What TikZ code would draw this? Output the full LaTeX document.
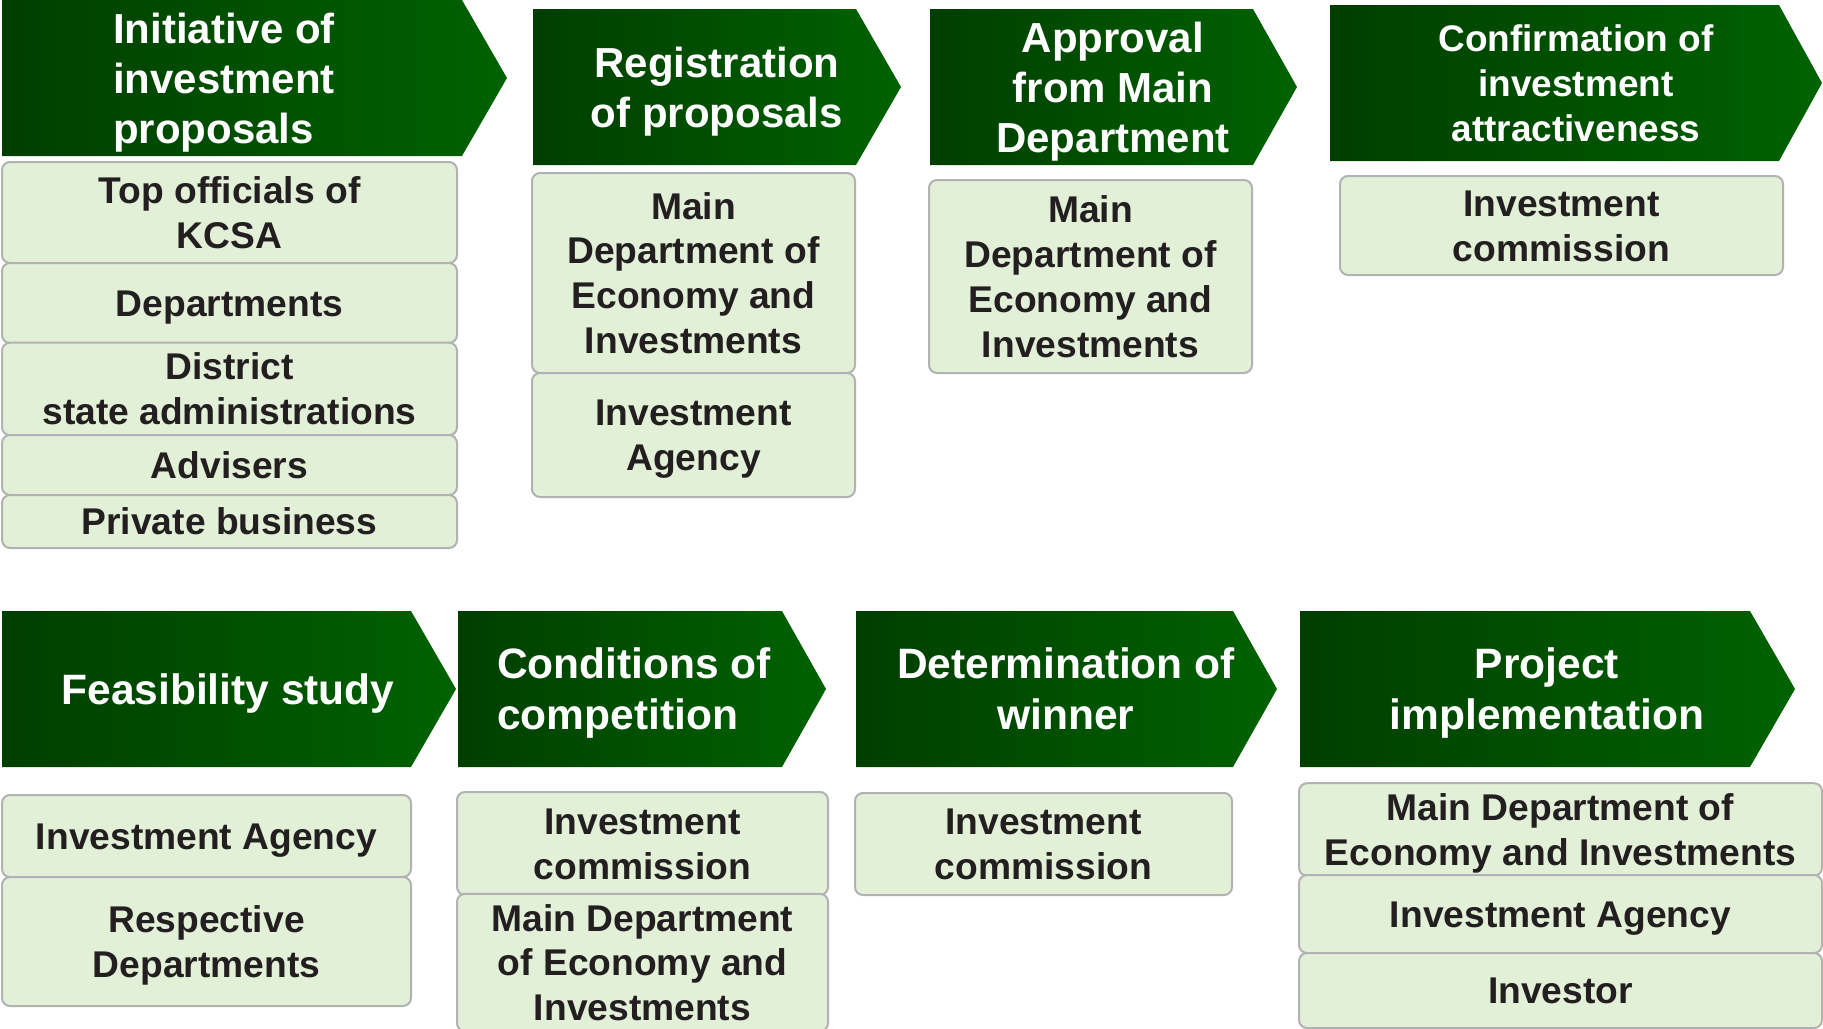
\documentclass[tikz,border=0pt]{standalone}
\usepackage{fontspec}
\setmainfont{Liberation Sans}
\definecolor{boxfill}{RGB}{226,240,216}
\definecolor{boxline}{RGB}{178,178,178}
\definecolor{txt}{RGB}{35,31,32}
\definecolor{gdark}{RGB}{0,62,0}
\definecolor{glight}{RGB}{0,98,0}
% struts so that the node centre is the centre of the capitals
\newcommand\tS{\rule{0pt}{1em}}
\newcommand\tE{\rule[-0.284em]{0pt}{0.284em}}
\tikzset{
  cell/.style={draw=boxline, fill=boxfill, rounded corners=8pt, line width=2pt,
    text=txt, font=\fontsize{37.2}{44.8}\selectfont\bfseries, align=center,
    inner sep=0pt, outer sep=0pt},
  hdr/.style={text=white, font=\fontsize{42}{50}\selectfont\bfseries, align=center,
    inner sep=0pt},
  hdrB/.style={hdr, font=\fontsize{42.5}{50.5}\selectfont\bfseries},
  hdrL/.style={align=left, anchor=west}
}
% x1 y1 xbody xtip y2
\newcommand\hdrshape[5]{%
  \shade[left color=gdark,right color=glight] (#1,#2) -- (#3,#2) -- (#4,{(#2+#5)/2}) -- (#3,#5) -- (#1,#5) -- cycle;}
% name x1 y1 x2 y2 text
\newcommand\cellbox[6]{%
  \node[cell,minimum width={(#4-#2)*1pt},minimum height={(#5-#3)*1pt}] (#1) at ({(#2+#4)/2},{(#3+#5)/2}) {\tS#6\tE};}
\begin{document}
\begin{tikzpicture}[x=1pt,y=-1pt]
\useasboundingbox (0,0) rectangle (1823,1028);
% ---------- top row headers ----------
\hdrshape{2}{0}{462}{507}{156}
\node[hdr, hdrL] (h1) at (113,78) {\tS Initiative of\\investment\\proposals\tE};
\hdrshape{533}{9}{856}{901}{165}
\node[hdr] (h2) at (717,87) {\tS Registration\\of proposals\tE};
\hdrshape{930}{9}{1253}{1297}{165}
\node[hdr] (h3) at (1113,87) {\tS Approval\\from Main\\Department\tE};
\hdrshape{1330}{5}{1779}{1822}{161}
\node[hdr, font=\fontsize{37}{45}\selectfont\bfseries] (h4) at (1576,83) {\tS Confirmation of\\investment\\attractiveness\tE};
% ---------- bottom row headers ----------
\hdrshape{2}{611}{411}{456}{767}
\node[hdrB] (h5) at (228,689) {\tS Feasibility study\tE};
\hdrshape{458}{611}{782}{826}{767}
\node[hdrB, hdrL] (h6) at (497,689) {\tS Conditions of\\competition\tE};
\hdrshape{856}{611}{1233}{1277}{767}
\node[hdrB] (h7) at (1066,689) {\tS Determination of\\winner\tE};
\hdrshape{1300}{611}{1750}{1795}{767}
\node[hdrB] (h8) at (1547,689) {\tS Project\\implementation\tE};
% ---------- top row boxes ----------
\cellbox{b11}{2}{162}{457}{263}{Top officials of\\KCSA}
\cellbox{b12}{2}{263}{457}{343}{Departments}
\cellbox{b13}{2}{343}{457}{435}{District\\state administrations}
\cellbox{b14}{2}{435}{457}{495}{Advisers}
\cellbox{b15}{2}{495}{457}{548}{Private business}
\cellbox{b21}{532}{173}{855}{373}{Main\\Department of\\Economy and\\Investments}
\cellbox{b22}{532}{373}{855}{497}{Investment\\Agency}
\cellbox{b31}{929}{180}{1252}{373}{Main\\Department of\\Economy and\\Investments}
\cellbox{b41}{1340}{176}{1783}{275}{Investment\\commission}
% ---------- bottom row boxes ----------
\cellbox{c11}{2}{795}{411}{877}{Investment Agency}
\cellbox{c12}{2}{877}{411}{1006}{Respective\\Departments}
\cellbox{c21}{457}{792}{828}{895}{Investment\\commission}
\cellbox{c22}{457}{895}{828}{1030}{Main Department\\of Economy and\\Investments}
\cellbox{c31}{855}{793}{1232}{895}{Investment\\commission}
\cellbox{c41}{1299}{784}{1822}{875}{Main Department of\\Economy and Investments}
\cellbox{c42}{1299}{875}{1822}{953}{Investment Agency}
\cellbox{c43}{1299}{953}{1822}{1028}{Investor}
\end{tikzpicture}
\end{document}
